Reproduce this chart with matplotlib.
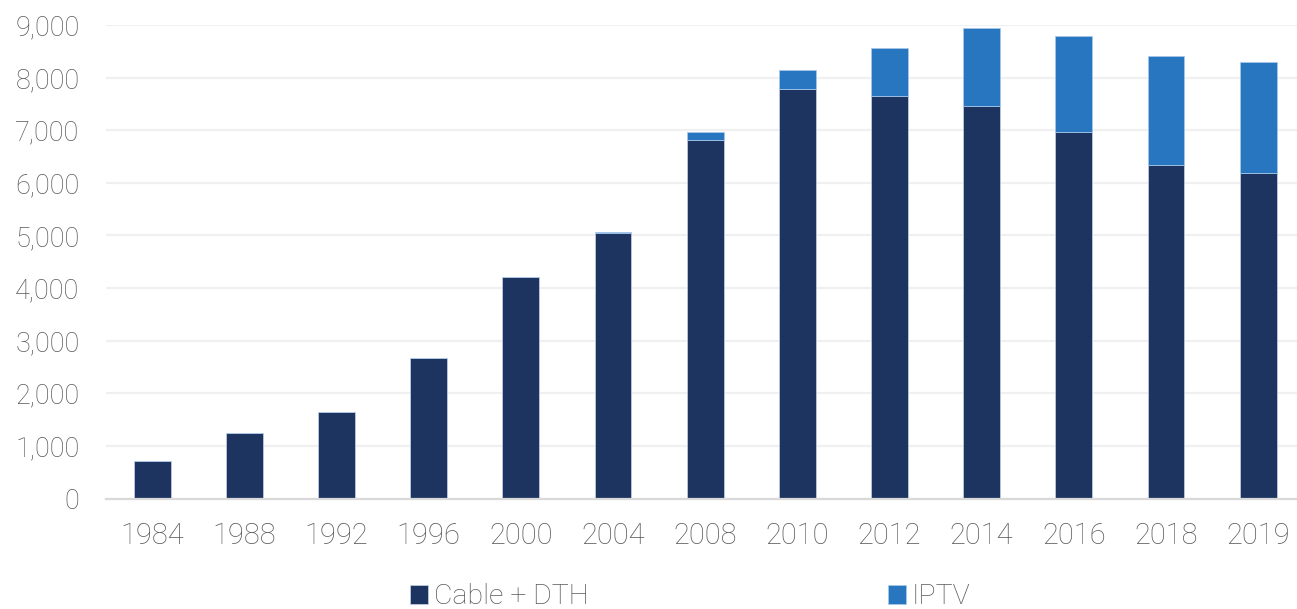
import matplotlib
matplotlib.use("Agg")
import matplotlib.pyplot as plt
from matplotlib.ticker import FuncFormatter
import numpy as np

years = ["1984", "1988", "1992", "1996", "2000", "2004", "2008",
         "2010", "2012", "2014", "2016", "2018", "2019"]
cable_dth = [715, 1240, 1640, 2680, 4210, 5040, 6810,
             7780, 7660, 7460, 6975, 6340, 6180]
iptv = [0, 0, 0, 0, 0, 25, 150,
        360, 900, 1480, 1815, 2080, 2110]

dark_blue = "#1d3461"
light_blue = "#2776bf"
text_grey = "#595959"

plt.rcParams["font.family"] = ["Roboto", "DejaVu Sans"]
plt.rcParams["font.weight"] = "light"

fig = plt.figure(figsize=(12.97, 6.09), dpi=100)
# plot area runs a little past the right edge of the figure, like the source
ax = fig.add_axes([106 / 1297, 1 - 498.6 / 609, 13 * 92.17 / 1297, (498.6 - 25) / 609])

x = np.arange(len(years))
b1 = ax.bar(x, cable_dth, width=0.4, color=dark_blue, edgecolor="#c8d3e6",
            linewidth=0.5, label="Cable + DTH", zorder=3)
b2 = ax.bar(x, iptv, width=0.4, bottom=cable_dth, color=light_blue,
            edgecolor="#a9cbec", linewidth=0.5, label="IPTV", zorder=3)

ax.set_xlim(-0.5, len(years) - 0.5)
ax.set_ylim(0, 9000)
ax.set_yticks(range(0, 9001, 1000))
ax.yaxis.set_major_formatter(FuncFormatter(lambda v, p: f"{int(v):,}"))
ax.set_xticks(x)
ax.set_xticklabels(years)

ax.grid(axis="y", color="#f0f0f0", linewidth=1.6, zorder=0)
for side in ["top", "right", "left"]:
    ax.spines[side].set_visible(False)
ax.spines["bottom"].set_color("#d9d9d9")
ax.spines["bottom"].set_linewidth(1.6)
ax.spines["bottom"].set_zorder(4)

ax.tick_params(axis="y", length=0, pad=19, labelsize=19.5, labelcolor=text_grey)
ax.tick_params(axis="x", length=0, pad=17, labelsize=21, labelcolor=text_grey)

fig.legend(handles=[b1, b2], labels=["Cable + DTH", "IPTV"], loc="center",
           bbox_to_anchor=(0.532, 0.02), ncol=2, frameon=False,
           fontsize=20.5, labelcolor=text_grey, handlelength=0.65,
           handleheight=0.65, handletextpad=0.2, columnspacing=10.5)

fig.savefig("out.png", dpi=100)
